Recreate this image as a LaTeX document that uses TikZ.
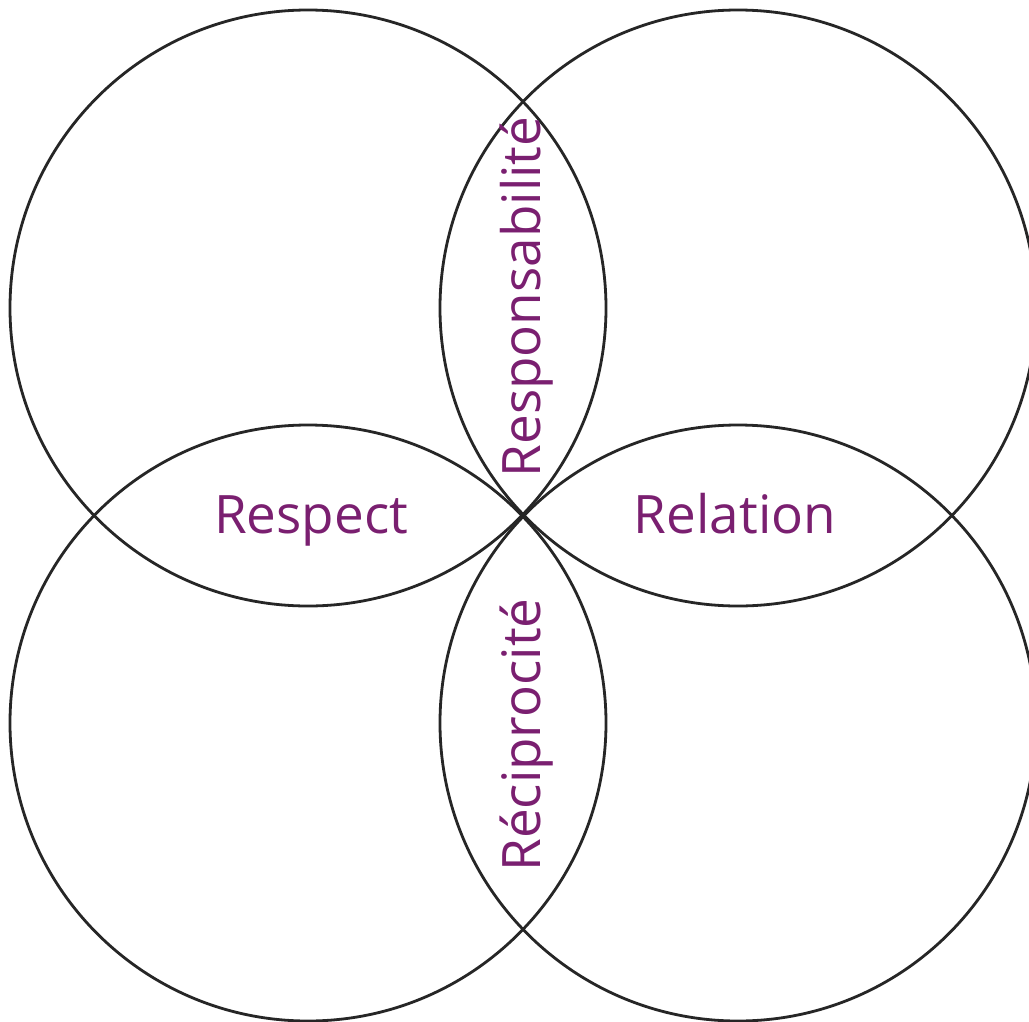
\documentclass[tikz,border=0pt]{standalone}
\usepackage{fontspec}
\setmainfont{Open Sans}
\definecolor{plum}{RGB}{122,31,112}
\begin{document}
\begin{tikzpicture}[x=1pt,y=-1pt,
  ring/.style={draw=black!85,line width=2.8pt},
  lbl/.style={text=plum,font=\fontsize{53}{56}\selectfont,inner sep=0pt,anchor=base}]
\useasboundingbox (0,0) rectangle (1029,1021);
\clip (0,0) rectangle (1029,1021);
\fill[white] (0,0) rectangle (1029,1021);
\coordinate (tl) at (308,308);
\coordinate (tr) at (738,308);
\coordinate (bl) at (308,723);
\coordinate (br) at (738,723);
\draw[ring] (tl) circle[radius=298];
\draw[ring] (tr) circle[radius=298];
\draw[ring] (bl) circle[radius=298];
\draw[ring] (br) circle[radius=298];
\node[lbl] (respect) at (311,533) {Respect};
\node[lbl] (relation) at (735,533) {Relation};
\node[lbl,rotate=90] (resp) at (540,297) {Responsabilité};
\node[lbl,rotate=90] (recip) at (540,735) {Réciprocité};
\end{tikzpicture}
\end{document}
